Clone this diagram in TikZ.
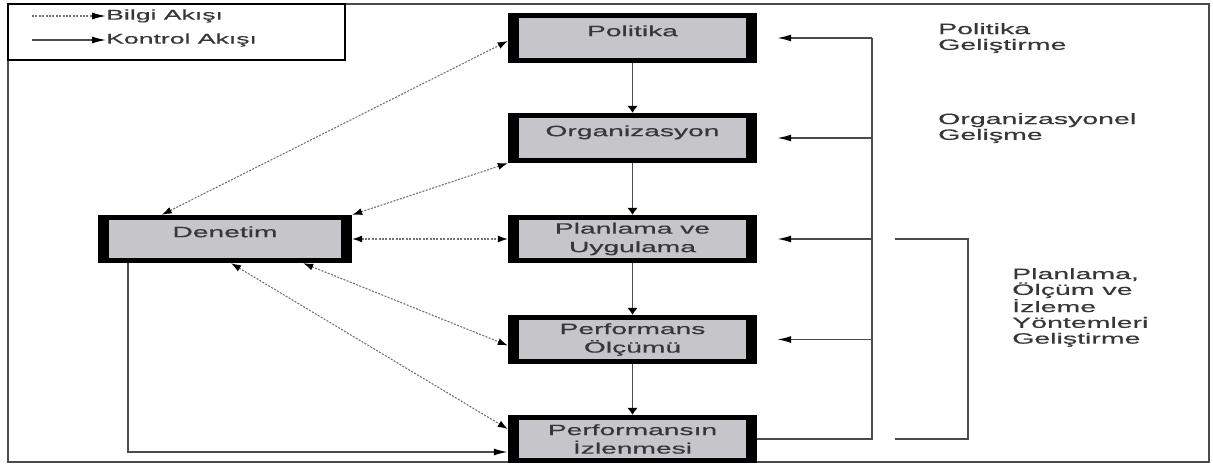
\documentclass[tikz,border=0pt]{standalone}
\usepackage{fontspec}
\setmainfont{Liberation Sans}[FakeBold=0.35]
\usetikzlibrary{arrows.meta,calc}
\definecolor{boxgray}{RGB}{198,198,202}
\definecolor{txt}{RGB}{55,55,55}
\definecolor{ln}{RGB}{75,75,75}
\definecolor{dotln}{RGB}{115,115,115}
% horizontally widened text
\newcommand{\wtxt}[2][1.9]{\scalebox{#1}[1]{#2}}

\begin{document}
\begin{tikzpicture}[x=1pt,y=-1pt,
  proc/.style={fill=black, minimum width=249pt, minimum height=50pt, inner sep=0pt,
    text=txt, align=center, font=\fontsize{15}{18.5}\selectfont,
    path picture={\fill[boxgray]
      ([xshift=11pt,yshift=-5pt]path picture bounding box.north west) rectangle
      ([xshift=-11pt,yshift=5pt]path picture bounding box.south east);}},
  rlbl/.style={anchor=north west, align=left, inner sep=0pt, text=txt,
    font=\fontsize{15}{15.8}\selectfont},
  leg/.style={anchor=west, inner sep=0pt, text=txt, font=\fontsize{14}{16}\selectfont},
  ctrl/.style={draw=ln, line width=1.6pt},
  fbline/.style={draw=ln, line width=2.4pt},
  info/.style={draw=dotln, line width=1.1pt, dash pattern=on 2pt off 1.4pt},
  ha/.style={arrows={-Latex[length=14pt,width=7pt,black]}},
  va/.style={arrows={-Latex[length=7pt,width=11pt,black]}},
  da/.style={arrows={Latex[length=10pt,width=7pt,black]-Latex[length=10pt,width=7pt,black]}},
]
\useasboundingbox (0,0) rectangle (1213,465);

% outer frame and legend
\draw[ln, line width=2pt] (8,4) rectangle (1209,462);
\draw[black, line width=1.4pt] (8,4) rectangle (345,60);
\node[leg] (lgInfo) at (106,16) {\wtxt{Bilgi Akışı}};
\node[leg] (lgCtrl) at (106,40) {\wtxt{Kontrol Akışı}};
\coordinate (lgInfoS) at (32,16);
\coordinate (lgCtrlS) at (32,40);
\draw[info, ha] (lgInfoS) -- (lgInfo.west);
\draw[ctrl, line width=1.2pt, ha] (lgCtrlS) -- (lgCtrl.west);

% main process column
\node[proc] (pol) at (632.5,38) {\raisebox{1.8pt}[0pt][0pt]{\wtxt[1.88]{Politika}}};
\node[proc] (org) at (632.5,138) {\raisebox{1.8pt}[0pt][0pt]{\wtxt[1.88]{Organizasyon}}};
\node[proc, minimum height=48pt] (plan) at (632.5,239) {\wtxt[1.88]{Planlama ve}\\\wtxt[1.88]{Uygulama}};
\node[proc, minimum height=49pt] (perf) at (632.5,339.5) {\wtxt[1.88]{Performans}\\\wtxt[1.88]{Ölçümü}};
\node[proc, minimum height=48pt] (izl) at (632.5,439) {\wtxt[1.88]{Performansın}\\\wtxt[1.88]{İzlenmesi}};

% audit box
\node[proc, minimum width=254pt, minimum height=48pt] (den) at (225,239)
  {\raisebox{1.8pt}[0pt][0pt]{\wtxt[1.88]{Denetim}}};

% control flow down the column
\draw[ctrl, va] (pol.south) -- (org.north);
\draw[ctrl, va] (org.south) -- (plan.north);
\draw[ctrl, va] (plan.south) -- (perf.north);
\draw[ctrl, va] (perf.south) -- (izl.north);

% feedback from monitoring to every stage
\coordinate (fbx) at (872,0);
\draw[fbline] (izl.east) -- (izl.east -| fbx) -- (pol.east -| fbx);
\draw[ctrl, ha, shorten >=20pt] (pol.east -| fbx) -- (pol.east);
\draw[ctrl, ha, shorten >=20pt] (org.east -| fbx) -- (org.east);
\draw[ctrl, ha, shorten >=20pt] (plan.east -| fbx) -- (plan.east);
\draw[ctrl, ha, shorten >=20pt] (perf.east -| fbx) -- (perf.east);

% bracket for the lower three stages
\coordinate (brT) at (895,239);
\coordinate (brB) at (895,439);
\coordinate (brx) at (968,0);
\draw[ctrl] (brT) -- (brT -| brx) -- (brB -| brx) -- (brB);

% information flow with the audit
\draw[info, da] ([xshift=64pt]den.north west) -- ([yshift=-3pt]pol.west);
\draw[info, da] (den.north east) -- (org.south west);
\draw[info, da] (den.east) -- (plan.west);
\draw[info, da] ([xshift=-49pt]den.south east) -- ([yshift=-6pt]perf.west);
\draw[info, da] ([xshift=6pt]den.south) -- ([yshift=10pt]izl.west);

% audit results back to monitoring
\draw[ctrl, ha] ([xshift=30pt]den.south west) |- ([yshift=-13pt]izl.west);

% side labels
\node[rlbl] (lbPol) at (938,23) {\wtxt{Politika}\\\wtxt{Geliştirme}};
\node[rlbl] (lbOrg) at (938,113) {\wtxt{Organizasyonel}\\\wtxt{Gelişme}};
\node[rlbl] (lbPlan) at (1012,268)
  {\wtxt{Planlama,}\\\wtxt{Ölçüm ve}\\\wtxt{İzleme}\\\wtxt{Yöntemleri}\\\wtxt{Geliştirme}};
\end{tikzpicture}
\end{document}
